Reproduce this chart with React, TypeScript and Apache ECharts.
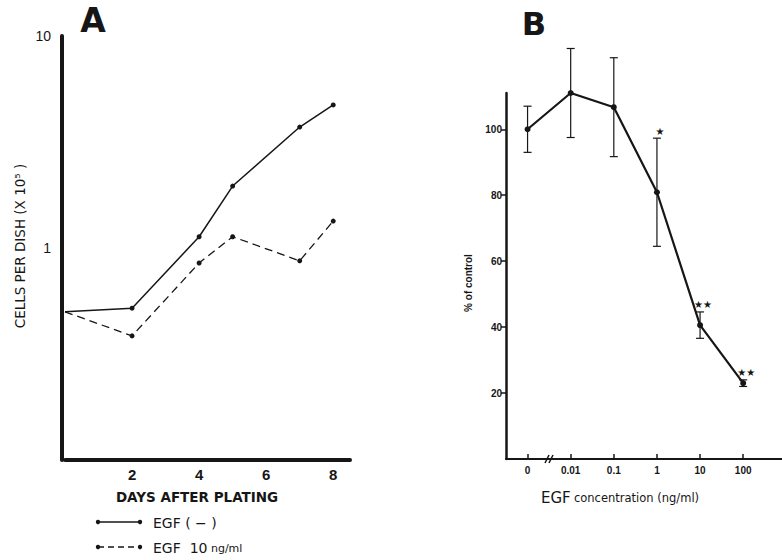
import React, { useEffect, useRef } from 'react';
import * as echarts from 'echarts';

// Panel A: cells per dish (x10^5) vs days after plating
const daysA = [0, 2, 4, 5, 7, 8];
const egfNone = [0.5, 0.52, 1.13, 1.96, 3.72, 4.73];
const egf10 = [0.5, 0.385, 0.85, 1.13, 0.87, 1.34];
const xTicksA = [2, 4, 6, 8];
const yTicksA = [1, 10];

// Panel B: % of control vs EGF concentration
const concLabels = ['0', '0.01', '0.1', '1', '10', '100'];
const concIndex = [0, 1, 2, 3, 4, 5];
const pctMean = [100, 111, 106.7, 80.9, 40.6, 23];
const pctErr = [7, 13.5, 15, 16.4, 4, 1];
const signif = ['', '', '', '★', '★★', '★★'];
const yTicksB = [20, 40, 60, 80, 100];

const INK = '#161616';
const NARROW = '"Liberation Sans Narrow", "Liberation Sans", Arial, sans-serif';
const SANS = '"Liberation Sans", Arial, sans-serif';
const WIDE = '"DejaVu Sans", "Liberation Sans", sans-serif';

function txt(x: number, y: number, text: string, extra: any = {}, rotation = 0) {
  return {
    type: 'text',
    x,
    y,
    rotation,
    silent: true,
    style: {
      text,
      fill: INK,
      align: 'center',
      verticalAlign: 'middle',
      textAlign: 'center',
      textVerticalAlign: 'middle',
      fontFamily: SANS,
      fontSize: 13,
      ...extra,
    },
  };
}

export default function App() {
  const ref = useRef<HTMLDivElement>(null);

  useEffect(() => {
    if (!ref.current) return;
    const chart = echarts.init(ref.current, undefined, { renderer: 'svg' });

    const solidData = daysA.map((d, i) =>
      i === 0 ? { value: [d, egfNone[i]], symbol: 'none' } : { value: [d, egfNone[i]] }
    );
    const dashData = daysA.map((d, i) =>
      i === 0 ? { value: [d, egf10[i]], symbol: 'none' } : { value: [d, egf10[i]] }
    );
    const errData = concIndex.map((x, i) => [x, pctMean[i] - pctErr[i], pctMean[i] + pctErr[i]]);
    const starData = concIndex
      .map((x, i) => ({ value: [x, pctMean[i] + pctErr[i]], name: signif[i] }))
      .filter((d) => d.name !== '');

    const option: any = {
      animation: false,
      backgroundColor: '#ffffff',
      grid: [
        { left: 65, top: 36, width: 285, height: 424 },
        { left: 506, top: 93, width: 278, height: 366 },
      ],
      xAxis: [
        {
          gridIndex: 0,
          type: 'value',
          min: 0,
          max: 8.5,
          axisLine: { show: true, onZero: false, lineStyle: { color: INK, width: 4 } },
          axisTick: { show: false },
          splitLine: { show: false },
          axisLabel: {
            customValues: xTicksA,
            color: INK,
            fontFamily: NARROW,
            fontWeight: 'bold',
            fontSize: 15,
            margin: 7,
          },
        },
        {
          gridIndex: 1,
          type: 'value',
          min: -0.5,
          max: 5.9,
          axisLine: { show: true, onZero: false, lineStyle: { color: INK, width: 2.2 } },
          axisTick: {
            show: true,
            customValues: concIndex,
            inside: true,
            length: 5,
            lineStyle: { color: INK, width: 1.5 },
          },
          splitLine: { show: false },
          axisLabel: {
            customValues: concIndex,
            formatter: (v: number) => concLabels[Math.round(v)] ?? '',
            color: INK,
            fontFamily: NARROW,
            fontWeight: 'bold',
            fontSize: 10,
            margin: 6,
          },
        },
      ],
      yAxis: [
        {
          gridIndex: 0,
          type: 'log',
          logBase: 10,
          min: 0.1,
          max: 10,
          offset: 3,
          axisLine: { show: true, onZero: false, lineStyle: { color: INK, width: 4 } },
          axisTick: { show: false },
          minorTick: { show: false },
          splitLine: { show: false },
          axisLabel: {
            customValues: yTicksA,
            formatter: (v: number) => String(Math.round(v)),
            color: INK,
            fontFamily: NARROW,
            fontSize: 14,
            margin: 11,
          },
        },
        {
          gridIndex: 1,
          type: 'value',
          min: 0,
          max: 111,
          axisLine: { show: true, onZero: false, lineStyle: { color: INK, width: 2.5 } },
          axisTick: {
            show: true,
            customValues: yTicksB,
            length: 5,
            lineStyle: { color: INK, width: 1.5 },
          },
          splitLine: { show: false },
          axisLabel: {
            customValues: yTicksB,
            color: INK,
            fontFamily: NARROW,
            fontWeight: 'bold',
            fontSize: 10,
            margin: 4,
          },
        },
      ],
      series: [
        {
          name: 'EGF (−)',
          type: 'line',
          xAxisIndex: 0,
          yAxisIndex: 0,
          data: solidData,
          symbol: 'circle',
          symbolSize: 5,
          itemStyle: { color: INK },
          lineStyle: { color: INK, width: 1.5 },
        },
        {
          name: 'EGF 10 ng/ml',
          type: 'line',
          xAxisIndex: 0,
          yAxisIndex: 0,
          data: dashData,
          symbol: 'circle',
          symbolSize: 5,
          itemStyle: { color: INK },
          lineStyle: { color: INK, width: 1.3, type: [8, 5] },
        },
        {
          name: 'error',
          type: 'custom',
          xAxisIndex: 1,
          yAxisIndex: 1,
          data: errData,
          encode: { x: 0, y: [1, 2] },
          renderItem: (params: any, api: any) => {
            const x = api.value(0);
            const lo = api.coord([x, api.value(1)]);
            const hi = api.coord([x, api.value(2)]);
            const w = 4;
            const st = { stroke: INK, lineWidth: 1.2 };
            return {
              type: 'group',
              children: [
                { type: 'line', shape: { x1: lo[0], y1: lo[1], x2: hi[0], y2: hi[1] }, style: st },
                { type: 'line', shape: { x1: lo[0] - w, y1: lo[1], x2: lo[0] + w, y2: lo[1] }, style: st },
                { type: 'line', shape: { x1: hi[0] - w, y1: hi[1], x2: hi[0] + w, y2: hi[1] }, style: st },
              ],
            };
          },
          z: 3,
        },
        {
          name: '% of control',
          type: 'line',
          xAxisIndex: 1,
          yAxisIndex: 1,
          data: concIndex.map((x, i) => [x, pctMean[i]]),
          symbol: 'circle',
          symbolSize: 6,
          itemStyle: { color: INK },
          lineStyle: { color: INK, width: 2.2 },
          z: 4,
        },
        {
          name: 'significance',
          type: 'scatter',
          xAxisIndex: 1,
          yAxisIndex: 1,
          data: starData,
          symbolSize: 0.1,
          itemStyle: { color: INK, opacity: 0 },
          label: {
            show: true,
            position: 'top',
            distance: 2,
            offset: [3, 0],
            formatter: (p: any) => p.name,
            color: INK,
            opacity: 1,
            fontFamily: WIDE,
            fontSize: 10,
          },
        },
      ],
      graphic: [
        txt(93, 20, 'A', { fontSize: 33, fontWeight: 'bold', fontFamily: WIDE }),
        txt(534, 24, 'B', { fontSize: 32, fontWeight: 'bold', fontFamily: WIDE }),
        txt(20, 246, 'CELLS PER DISH (X 10⁵ )', { fontSize: 13.5, fontFamily: WIDE }, Math.PI / 2),
        txt(197, 497, 'DAYS AFTER PLATING', { fontSize: 13.5, fontWeight: 'bold', fontFamily: WIDE }),
        // legend A
        { type: 'line', silent: true, shape: { x1: 98, y1: 522, x2: 140, y2: 522 }, style: { stroke: INK, lineWidth: 1.3 } },
        { type: 'circle', silent: true, shape: { cx: 98, cy: 522, r: 2.2 }, style: { fill: INK } },
        { type: 'circle', silent: true, shape: { cx: 140, cy: 522, r: 2.2 }, style: { fill: INK } },
        txt(153, 523, 'EGF ( − )', { fontSize: 14, align: 'left', textAlign: 'left', fontFamily: WIDE }),
        {
          type: 'line',
          silent: true,
          shape: { x1: 98, y1: 547, x2: 140, y2: 547 },
          style: { stroke: INK, lineWidth: 1.3, lineDash: [6, 4] },
        },
        { type: 'circle', silent: true, shape: { cx: 98, cy: 547, r: 2.2 }, style: { fill: INK } },
        { type: 'circle', silent: true, shape: { cx: 140, cy: 547, r: 2.2 }, style: { fill: INK } },
        {
          type: 'text',
          x: 153,
          y: 548,
          silent: true,
          style: {
            text: '{a|EGF  10}{b| ng/ml}',
            align: 'left',
            verticalAlign: 'middle',
            textAlign: 'left',
            textVerticalAlign: 'middle',
            fill: INK,
            rich: {
              a: { fontSize: 14, fontFamily: WIDE, fill: INK, color: INK },
              b: { fontSize: 11, fontFamily: WIDE, fill: INK, color: INK },
            },
          },
        },
        // panel B titles
        txt(468, 283, '% of control', { fontSize: 10, fontWeight: 'bold', fontFamily: SANS }, Math.PI / 2),
        {
          type: 'text',
          x: 620,
          y: 498,
          silent: true,
          style: {
            text: '{a|EGF} {b|concentration (ng/ml)}',
            align: 'center',
            verticalAlign: 'middle',
            textAlign: 'center',
            textVerticalAlign: 'middle',
            fill: INK,
            rich: {
              a: { fontSize: 15, fontFamily: WIDE, fill: INK, color: INK },
              b: { fontSize: 11.5, fontFamily: WIDE, fill: INK, color: INK },
            },
          },
        },
        // axis break marks
        { type: 'line', silent: true, shape: { x1: 545, y1: 463, x2: 549, y2: 455 }, style: { stroke: INK, lineWidth: 1.5 } },
        { type: 'line', silent: true, shape: { x1: 549, y1: 463, x2: 553, y2: 455 }, style: { stroke: INK, lineWidth: 1.5 } },
      ],
    };

    chart.setOption(option);
    return () => chart.dispose();
  }, []);

  return (
    <div
      ref={ref}
      style={{ position: 'fixed', left: 0, top: 0, width: 782, height: 560, background: '#fff' }}
    />
  );
}
